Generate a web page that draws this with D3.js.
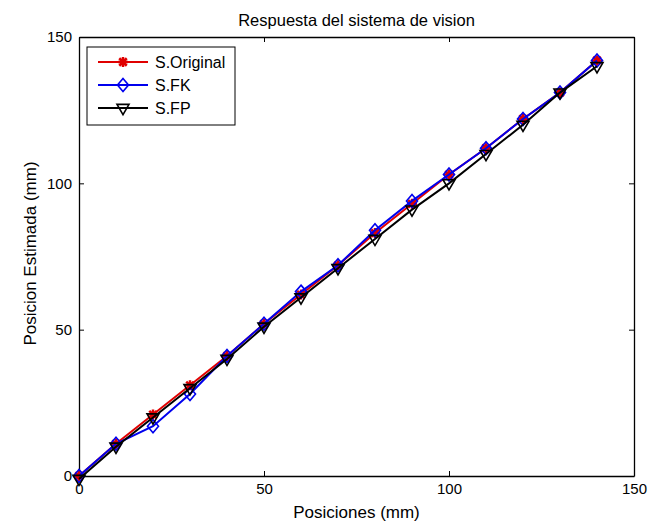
<!DOCTYPE html>
<html>
<head>
<meta charset="utf-8">
<script src="https://cdn.jsdelivr.net/npm/d3@7"></script>
<style>
  html, body { margin: 0; padding: 0; background: #fff; }
  svg text { font-family: Arial, "Liberation Sans", sans-serif; fill: #000; }
</style>
</head>
<body>
<svg id="chart" width="662" height="522"></svg>
<script>
// Positions commanded (mm)
const posiciones = [0, 10, 20, 30, 40, 50, 60, 70, 80, 90, 100, 110, 120, 130, 140];
// Estimated positions for each system (mm)
const sOriginal = [0, 11, 21, 31, 41, 52, 62, 72, 83, 93, 103, 112, 122, 131, 142];
const sFK       = [0, 11, 17, 28, 41, 52, 63, 72, 84, 94, 103, 112, 122, 131, 142];
const sFP       = [-1, 10, 20, 30, 40, 51, 61, 71, 81, 91, 100, 110, 120, 131, 140];
const xTicks = [0, 50, 100, 150];
const yTicks = [0, 50, 100, 150];
const seriesNames = ["S.Original", "S.FK", "S.FP"];

const svg = d3.select("#chart");
const m = { left: 79, right: 634, top: 37, bottom: 476 };

const x = d3.scaleLinear().domain([0, 150]).range([m.left, m.right]);
const y = d3.scaleLinear().domain([0, 150]).range([m.bottom, m.top]);

// Axis box with inward ticks on all four sides
const tickLen = 5;
const axes = [
  { axis: d3.axisBottom(x), t: `translate(0,${m.bottom})`, labels: true },
  { axis: d3.axisTop(x), t: `translate(0,${m.top})`, labels: false },
  { axis: d3.axisLeft(y), t: `translate(${m.left},0)`, labels: true },
  { axis: d3.axisRight(y), t: `translate(${m.right},0)`, labels: false }
];
axes.forEach((a, i) => {
  const isX = i < 2;
  const g = svg.append("g").attr("transform", a.t)
    .call(a.axis.tickValues(isX ? xTicks : yTicks)
      .tickSizeInner(-tickLen).tickSizeOuter(0).tickPadding(7)
      .tickFormat(a.labels ? d3.format("d") : () => ""));
  g.select(".domain").attr("stroke", "#000").attr("stroke-width", 1.3);
  g.selectAll(".tick line").attr("stroke", "#000");
  g.selectAll(".tick text").attr("font-size", 15).attr("fill", "#000")
    .style("font-family", "Arial, 'Liberation Sans', sans-serif");
});

// Series definitions
const series = [
  { name: seriesNames[0], values: sOriginal, color: "#e00000", marker: "star" },
  { name: seriesNames[1], values: sFK, color: "#0000ee", marker: "diamond" },
  { name: seriesNames[2], values: sFP, color: "#000000", marker: "triangleDown" }
];

function markerPath(type) {
  switch (type) {
    case "star": {
      // asterisk: 4 strokes
      const r = 5;
      const d = r * 0.75;
      return `M${-r},0L${r},0M0,${-r}L0,${r}M${-d},${-d}L${d},${d}M${-d},${d}L${d},${-d}`;
    }
    case "diamond": {
      const r = 6.5;
      return `M0,${-r}L${r * 0.85},0L0,${r}L${-r * 0.85},0Z`;
    }
    case "triangleDown": {
      const r = 6;
      return `M${-r},${-r * 0.6}L${r},${-r * 0.6}L0,${r * 1.1}Z`;
    }
  }
}

const line = d3.line().x((d, i) => x(posiciones[i])).y(d => y(d));

series.forEach(s => {
  const g = svg.append("g");
  g.append("path").datum(s.values)
    .attr("d", line).attr("fill", "none")
    .attr("stroke", s.color).attr("stroke-width", 2);
  g.selectAll("path.mk").data(s.values).enter().append("path")
    .attr("class", "mk")
    .attr("transform", (d, i) => `translate(${x(posiciones[i])},${y(d)})`)
    .attr("d", markerPath(s.marker))
    .attr("fill", s.marker === "star" ? s.color : "none")
    .attr("stroke", s.color)
    .attr("stroke-width", s.marker === "star" ? 2.5 : 1.6);
});

// Legend
const lg = svg.append("g");
lg.append("rect").attr("x", 87).attr("y", 47).attr("width", 148).attr("height", 78)
  .attr("fill", "#fff").attr("stroke", "#000").attr("stroke-width", 1);
series.forEach((s, i) => {
  const yy = 62 + i * 23;
  lg.append("line").attr("x1", 98).attr("x2", 148).attr("y1", yy).attr("y2", yy)
    .attr("stroke", s.color).attr("stroke-width", 2);
  lg.append("path").attr("transform", `translate(123,${yy})`)
    .attr("d", markerPath(s.marker))
    .attr("fill", s.marker === "star" ? s.color : "none")
    .attr("stroke", s.color)
    .attr("stroke-width", s.marker === "star" ? 2.5 : 1.6);
  lg.append("text").attr("x", 155).attr("y", yy).attr("dy", "0.36em")
    .attr("font-size", 16).text(s.name);
});

// Title and axis labels
svg.append("text").attr("x", (m.left + m.right) / 2).attr("y", 26)
  .attr("text-anchor", "middle").attr("font-size", 16.5)
  .text("Respuesta del sistema de vision");
svg.append("text").attr("x", (m.left + m.right) / 2).attr("y", 518)
  .attr("text-anchor", "middle").attr("font-size", 17)
  .text("Posiciones (mm)");
svg.append("text")
  .attr("transform", `translate(36,${(m.top + m.bottom) / 2 - 3}) rotate(-90)`)
  .attr("text-anchor", "middle").attr("font-size", 17)
  .text("Posicion Estimada (mm)");
</script>
</body>
</html>
